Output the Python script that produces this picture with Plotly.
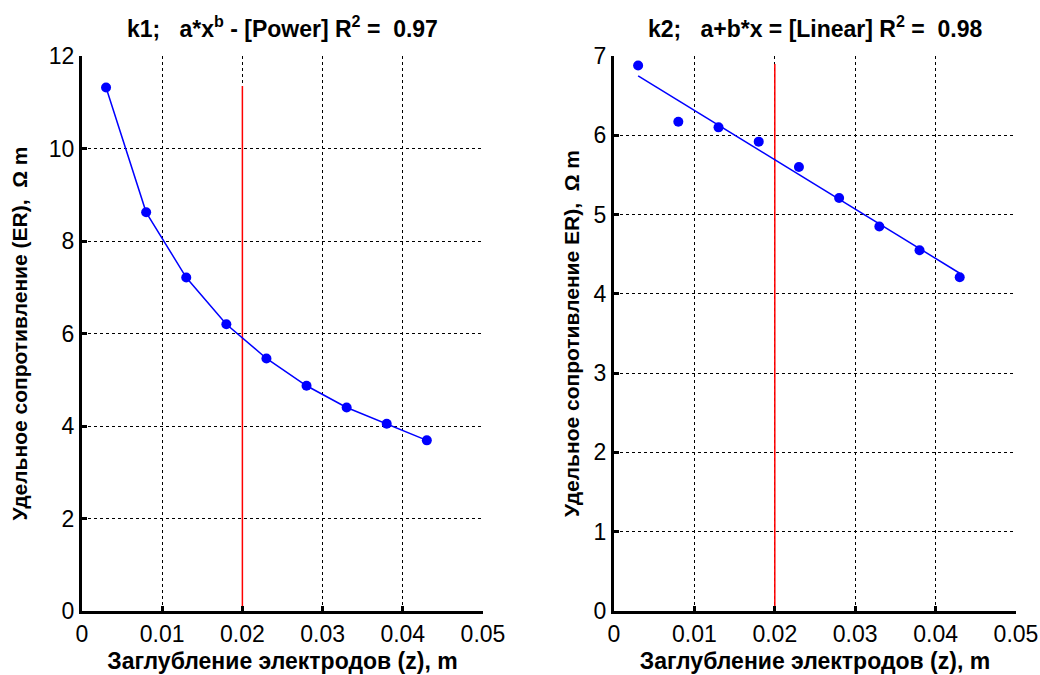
import plotly.graph_objects as go

# ---- data ----
depth_z = [0.003, 0.008, 0.013, 0.018, 0.023, 0.028, 0.033, 0.038, 0.043]
er_k1 = [11.32, 8.62, 7.21, 6.20, 5.46, 4.87, 4.40, 4.05, 3.69]
er_k2 = [6.88, 6.17, 6.10, 5.92, 5.60, 5.21, 4.85, 4.55, 4.21]
fit_k2_x = [0.003, 0.043]
fit_k2_y = [6.75, 4.26]
marker_x = [0.02, 0.02]
marker_k1_y = [0, 11.35]
marker_k2_y = [0, 6.90]

x_ticks = [0, 0.01, 0.02, 0.03, 0.04, 0.05]
x_tick_text = ["0", "0.01", "0.02", "0.03", "0.04", "0.05"]
y1_ticks = [0, 2, 4, 6, 8, 10, 12]
y2_ticks = [0, 1, 2, 3, 4, 5, 6, 7]

S = "&nbsp;"
title_k1 = "k1;" + S * 3 + "a*x<sup>b</sup> - [Power] R<sup>2</sup> =" + S * 2 + "0.97"
title_k2 = "k2;" + S * 3 + "a+b*x = [Linear] R<sup>2</sup> =" + S * 2 + "0.98"
x_title = "<b>Заглубление электродов (z), m</b>"
y1_title = "<b>Удельное сопротивление (ER)," + S * 2 + "Ω m</b>"
y2_title = "<b>Удельное сопротивление ER)," + S * 2 + "Ω m</b>"

FONT = "Arial, Liberation Sans, sans-serif"
BLUE = "#0000ff"
RED = "#ff0000"
TICK_SIZE = 23
XTITLE_SIZE = 23
YTITLE_SIZE = 21
TITLE_SIZE = 23

fig = go.Figure()

# left
fig.add_trace(go.Scatter(x=marker_x, y=marker_k1_y, mode="lines",
                         line=dict(color=RED, width=1.5), xaxis="x", yaxis="y", showlegend=False))
fig.add_trace(go.Scatter(x=depth_z, y=er_k1, mode="lines+markers",
                         line=dict(color=BLUE, width=1.5),
                         marker=dict(color=BLUE, size=10),
                         xaxis="x", yaxis="y", showlegend=False))
# right
fig.add_trace(go.Scatter(x=marker_x, y=marker_k2_y, mode="lines",
                         line=dict(color=RED, width=1.5), xaxis="x2", yaxis="y2", showlegend=False))
fig.add_trace(go.Scatter(x=fit_k2_x, y=fit_k2_y, mode="lines",
                         line=dict(color=BLUE, width=1.5),
                         xaxis="x2", yaxis="y2", showlegend=False))
fig.add_trace(go.Scatter(x=depth_z, y=er_k2, mode="markers",
                         marker=dict(color=BLUE, size=10),
                         xaxis="x2", yaxis="y2", showlegend=False))

common_x = dict(range=[0, 0.05], tickvals=x_ticks, ticktext=x_tick_text, automargin=False,
                showgrid=True, gridcolor="black", griddash="dot", gridwidth=1.3,
                showline=True, linecolor="black", linewidth=3, mirror=False,
                ticks="inside", ticklen=5, tickwidth=3, tickcolor="black",
                zeroline=False, tickfont=dict(size=TICK_SIZE, color="black", family=FONT),
                title=dict(text=x_title, font=dict(size=XTITLE_SIZE, color="black", family=FONT), standoff=8))
common_y = dict(showgrid=True, gridcolor="black", griddash="dot", gridwidth=1.3, automargin=False,
                showline=True, linecolor="black", linewidth=3, mirror=False,
                ticks="inside", ticklen=5, tickwidth=3, tickcolor="black",
                zeroline=False, tickfont=dict(size=TICK_SIZE, color="black", family=FONT))

fig.update_layout(
    width=1040, height=675,
    margin=dict(l=82, r=24, t=56, b=64),
    paper_bgcolor="white", plot_bgcolor="white",
    font=dict(family=FONT, color="black"),
    xaxis=dict(domain=[0, 0.4293], anchor="y", **common_x),
    yaxis=dict(domain=[0, 1], anchor="x", range=[0, 12], tickvals=y1_ticks,
               title=dict(text=y1_title, font=dict(size=YTITLE_SIZE, color="black", family=FONT), standoff=16),
               **common_y),
    xaxis2=dict(domain=[0.5696, 1], anchor="y2", **common_x),
    yaxis2=dict(domain=[0, 1], anchor="x2", range=[0, 7], tickvals=y2_ticks,
                title=dict(text=y2_title, font=dict(size=YTITLE_SIZE, color="black", family=FONT), standoff=9),
                **common_y),
    annotations=[
        dict(text="<b>" + title_k1 + "</b>", x=0.2146, y=1, xref="paper", yref="paper",
             xanchor="center", yanchor="bottom", yshift=12, showarrow=False,
             font=dict(size=TITLE_SIZE, color="black", family=FONT)),
        dict(text="<b>" + title_k2 + "</b>", x=0.7848, y=1, xref="paper", yref="paper",
             xanchor="center", yanchor="bottom", yshift=12, showarrow=False,
             font=dict(size=TITLE_SIZE, color="black", family=FONT)),
    ],
)

fig.write_html("out.html", config={"displayModeBar": False},
               post_script="document.body.style.margin='0';document.body.style.overflow='hidden';")
